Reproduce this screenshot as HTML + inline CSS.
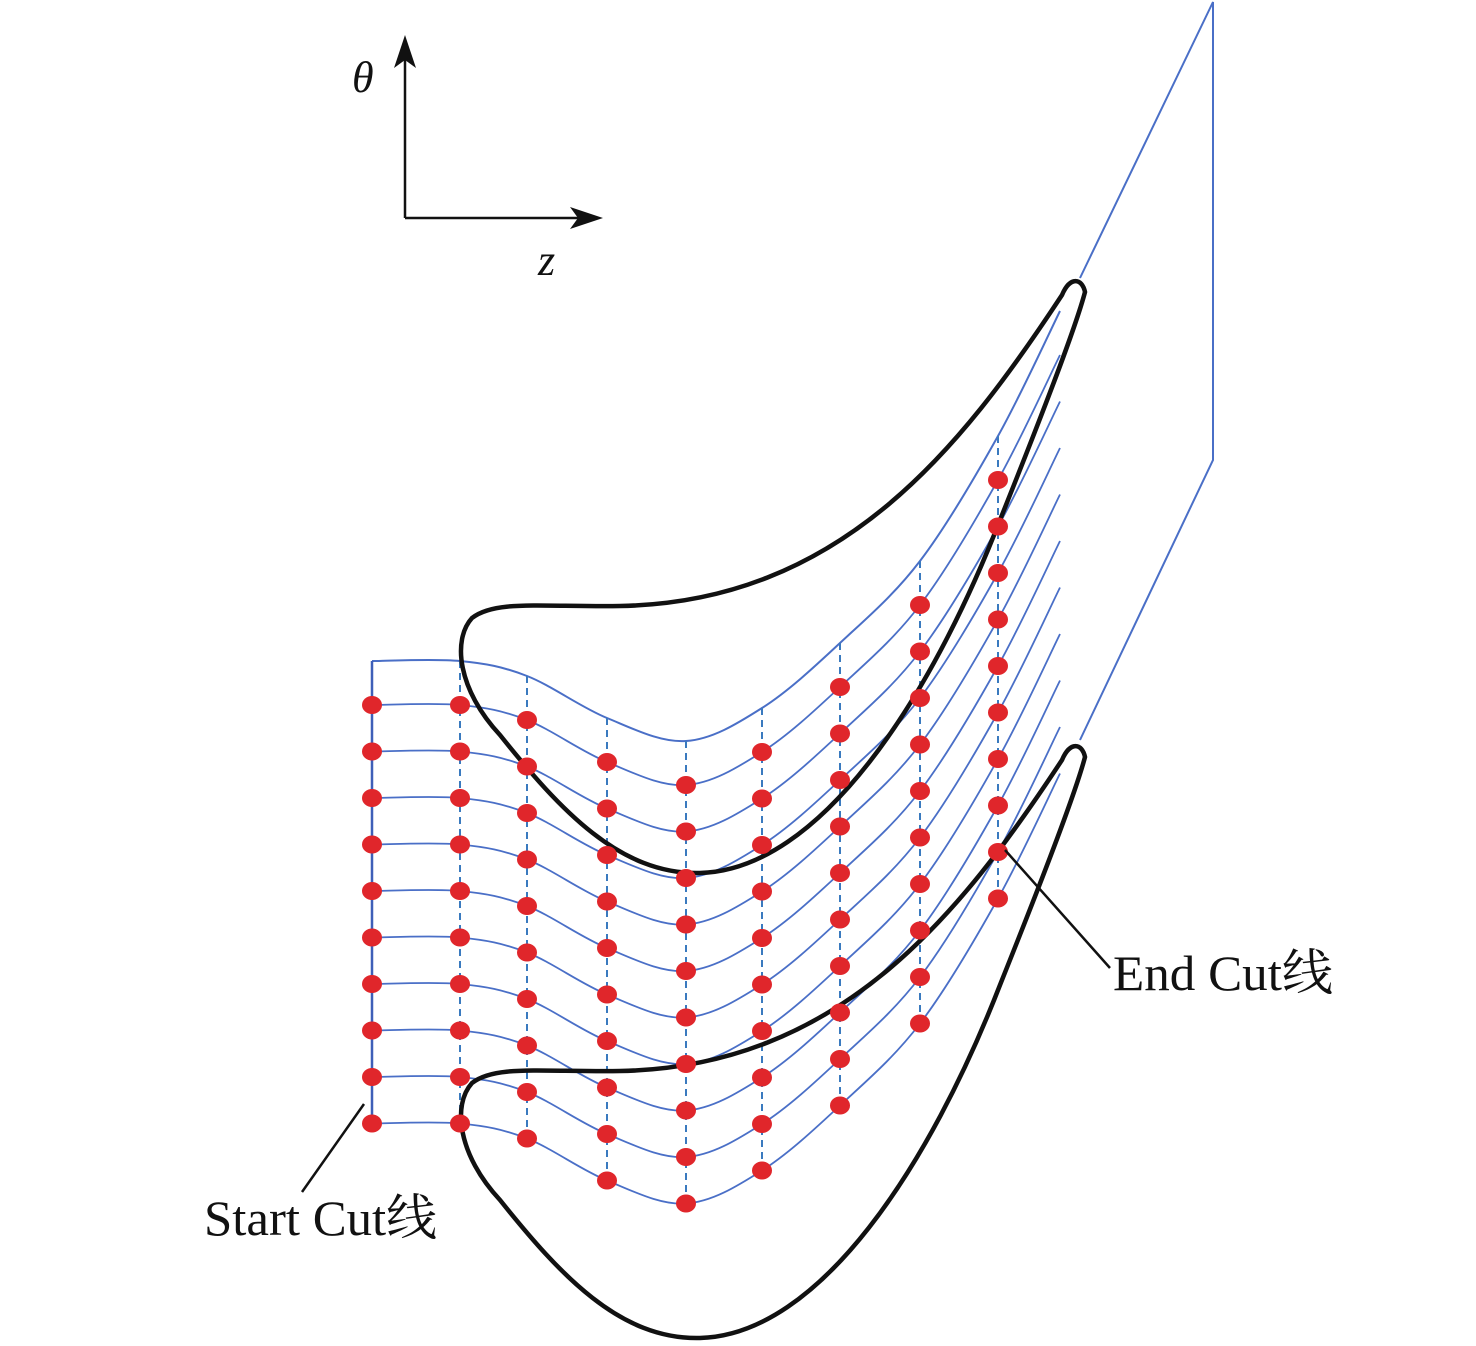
<!DOCTYPE html>
<html><head><meta charset="utf-8"><style>
html,body{margin:0;padding:0;background:#fff;}
svg{display:block}
text{font-family:"Liberation Serif","Noto Serif CJK SC",serif;fill:#111}
</style></head><body>
<svg id="s" width="1476" height="1346" viewBox="0 0 1476 1346" xmlns="http://www.w3.org/2000/svg">
<g id="grid"></g>
<g id="blades" fill="none" stroke="#111" stroke-width="4.5">
<path id="b1" d="M1085,292 C1082,278 1070,276 1062,295 C960,450 840,602 620,606 C540,607 495,600 472,618 C452,640 458,690 500,735 C560,810 620,875 700,873 C820,870 930,700 1000,520 C1040,420 1075,330 1085,292 Z"/>
<use href="#b1" transform="translate(0,465)"/>
</g>
<g id="dots" fill="#e0262b"></g>
<polyline points="1080,278 1213,2 1213,460 1080,740" fill="none" stroke="#4a6fc7" stroke-width="2"/>
<line x1="405" y1="218" x2="405" y2="52" stroke="#111" stroke-width="2.5"/>
<polygon points="405,35 394,68 405,60 416,68" fill="#111"/>
<line x1="405" y1="218" x2="585" y2="218" stroke="#111" stroke-width="2.5"/>
<polygon points="603,218 570,207 578,218 570,229" fill="#111"/>
<text x="352" y="92" font-size="44" font-style="italic">θ</text>
<text x="538" y="275" font-size="44" font-style="italic">z</text>
<line x1="1005" y1="850" x2="1110" y2="968" stroke="#111" stroke-width="2.5"/>
<text x="1113" y="990" font-size="50" textLength="220" lengthAdjust="spacingAndGlyphs">End Cut线</text>
<line x1="364" y1="1104" x2="302" y2="1192" stroke="#111" stroke-width="2.5"/>
<text x="204" y="1235" font-size="50" textLength="233" lengthAdjust="spacingAndGlyphs">Start Cut线</text>
</svg>
<script>
function cr(pts){
  var n=pts.length,d="M"+pts[0][0]+","+pts[0][1];
  for(var i=0;i<n-1;i++){
    var p0=pts[Math.max(i-1,0)],p1=pts[i],p2=pts[i+1],p3=pts[Math.min(i+2,n-1)];
    var c1=[p1[0]+(p2[0]-p0[0])/6,p1[1]+(p2[1]-p0[1])/6];
    var c2=[p2[0]-(p3[0]-p1[0])/6,p2[1]-(p3[1]-p1[1])/6];
    d+=" C"+c1[0].toFixed(1)+","+c1[1].toFixed(1)+" "+c2[0].toFixed(1)+","+c2[1].toFixed(1)+" "+p2[0]+","+p2[1];
  }
  return d;
}
var NS="http://www.w3.org/2000/svg";
function el(t,a,p){var e=document.createElementNS(NS,t);for(var k in a)e.setAttribute(k,a[k]);p.appendChild(e);return e;}
var cols=[372,460,527,607,686,762,840,920,998];
var base=[705,705,720,762,785,752,687,605,480];
var dy=46.5;
var grid=document.getElementById("grid"),dots=document.getElementById("dots");
function rowY(k,j){return k==0?base[j]-44:base[j]+(k-1)*dy;}
for(var k=0;k<=10;k++){
  var pts=[];
  for(var j=0;j<cols.length;j++)pts.push([cols[j],+rowY(k,j).toFixed(1)]);
  var last=pts[pts.length-1];
  pts.push([1060,+(last[1]-125).toFixed(1)]);
  el("path",{d:cr(pts),fill:"none",stroke:"#4a6fc7","stroke-width":k==0?2:1.8},grid);
  if(k>0)for(var j=0;j<cols.length;j++)el("ellipse",{cx:cols[j],cy:rowY(k,j),rx:10,ry:9},dots);
}
el("line",{x1:372,y1:661,x2:372,y2:rowY(10,0),stroke:"#3e5fb8","stroke-width":2.5},grid);
for(var j=1;j<cols.length;j++)
  el("line",{x1:cols[j],y1:rowY(0,j),x2:cols[j],y2:rowY(10,j),stroke:"#3a7abf","stroke-width":2,"stroke-dasharray":"7,5"},grid);
</script>
</body></html>
